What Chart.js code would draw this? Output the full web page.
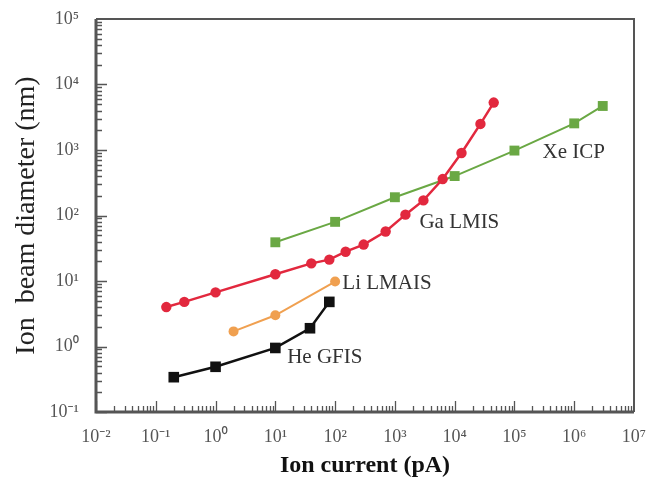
<!DOCTYPE html>
<html><head><meta charset="utf-8">
<script src="https://cdn.jsdelivr.net/npm/chart.js@4.4.1/dist/chart.umd.min.js"></script>
<style>html,body{margin:0;padding:0;background:#fff}#wrap{width:649px;height:491px}</style>
</head><body><div id="wrap"><canvas id="c"></canvas></div>
<script>
const heCurrent = [0.2, 1, 10, 38, 80];
const heDiameter = [0.34, 0.49, 0.95, 1.9, 4.8];
const liCurrent = [2, 10, 100];
const liDiameter = [1.7, 3.0, 9.8];
const gaCurrent = [0.15, 0.3, 1, 10, 40, 80, 150, 300, 700, 1500, 3000, 6300, 13000, 27000, 45000];
const gaDiameter = [4.0, 4.8, 6.7, 12.7, 18.6, 21.2, 28, 36, 57, 103, 170, 360, 900, 2500, 5300];
const xeCurrent = [10, 100, 1000, 10000, 100000, 1000000, 3000000];
const xeDiameter = [39, 80, 190, 400, 980, 2550, 4700];
const seriesNames = ['He GFIS', 'Li LMAIS', 'Ga LMIS', 'Xe ICP'];
const xTickValues = [1e-2, 1e-1, 1e0, 1e1, 1e2, 1e3, 1e4, 1e5, 1e6, 1e7];
const xTickLabels = ['10⁻²', '10⁻¹', '10⁰', '10¹', '10²', '10³', '10⁴', '10⁵', '10⁶', '10⁷'];
const yTickValues = [1e-1, 1e0, 1e1, 1e2, 1e3, 1e4, 1e5];
const yTickLabels = ['10⁻¹', '10⁰', '10¹', '10²', '10³', '10⁴', '10⁵'];
const xTitle = 'Ion current (pA)';
const yTitle = 'Ion  beam diameter (nm)';

const zip = (a, b) => a.map((v, i) => ({x: v, y: b[i]}));
const SERIF = '"Liberation Serif", "Times New Roman", serif';
const TICKFONT = '"Liberation Serif", "Noto Sans", "DejaVu Serif", serif';

const axisFrame = {
  id: 'axisFrame',
  beforeDatasetsDraw(chart) {
    const {ctx, chartArea: {left, right, top, bottom}, scales: {x, y}} = chart;
    ctx.save();
    ctx.strokeStyle = '#555';
    ctx.lineWidth = 1.3;
    ctx.beginPath();
    for (let e = -2; e <= 6; e++) {
      for (let m = 1; m <= 9; m++) {
        const px = Math.round(x.getPixelForValue(m * Math.pow(10, e))) + 0.5;
        const len = m === 1 ? 11 : 6;
        ctx.moveTo(px, bottom); ctx.lineTo(px, bottom - len);
      }
    }
    for (let e = -1; e <= 4; e++) {
      for (let m = 1; m <= 9; m++) {
        const py = Math.round(y.getPixelForValue(m * Math.pow(10, e))) + 0.5;
        const len = m === 1 ? 11 : 6;
        ctx.moveTo(left, py); ctx.lineTo(left + len, py);
      }
    }
    ctx.stroke();
    ctx.lineWidth = 2;
    ctx.beginPath();
    ctx.moveTo(left, top); ctx.lineTo(right, top); ctx.lineTo(right, bottom);
    ctx.stroke();
    ctx.lineWidth = 3;
    ctx.beginPath();
    ctx.moveTo(left, top); ctx.lineTo(left, bottom); ctx.lineTo(right, bottom);
    ctx.stroke();
    ctx.restore();
  }
};

const seriesLabels = {
  id: 'seriesLabels',
  afterDatasetsDraw(chart, args, opts) {
    const {ctx, scales: {x, y}} = chart;
    ctx.save();
    ctx.font = '21px ' + SERIF;
    ctx.fillStyle = '#333';
    ctx.textAlign = 'left';
    ctx.textBaseline = 'middle';
    opts.anchors.forEach(a => {
      ctx.fillText(a.text, x.getPixelForValue(a.x), y.getPixelForValue(a.y));
    });
    ctx.restore();
  }
};

const colors = {he: '#111111', li: '#f0a050', ga: '#e2283e', xe: '#6aa844'};

new Chart(document.getElementById('c'), {
  type: 'line',
  data: {
    datasets: [
      {label: seriesNames[0], data: zip(heCurrent, heDiameter), borderColor: colors.he, backgroundColor: colors.he,
       borderWidth: 2.5, pointStyle: 'rect', pointRadius: 7.5, pointBorderWidth: 0},
      {label: seriesNames[1], data: zip(liCurrent, liDiameter), borderColor: colors.li, backgroundColor: colors.li,
       borderWidth: 2, pointStyle: 'circle', pointRadius: 5, pointBorderWidth: 0},
      {label: seriesNames[2], data: zip(gaCurrent, gaDiameter), borderColor: colors.ga, backgroundColor: colors.ga,
       borderWidth: 2.5, pointStyle: 'circle', pointRadius: 5.2, pointBorderWidth: 0},
      {label: seriesNames[3], data: zip(xeCurrent, xeDiameter), borderColor: colors.xe, backgroundColor: colors.xe,
       borderWidth: 2, pointStyle: 'rect', pointRadius: 7, pointBorderWidth: 0}
    ]
  },
  options: {
    responsive: true,
    maintainAspectRatio: false,
    animation: false,
    layout: {padding: {top: 19, right: 15, left: 0, bottom: 0}},
    plugins: {
      legend: {display: false},
      tooltip: {enabled: false},
      seriesLabels: {
        anchors: [
          {text: seriesNames[0], x: 15.8, y: 0.68},
          {text: seriesNames[1], x: 132, y: 9.3},
          {text: seriesNames[2], x: 2570, y: 77},
          {text: seriesNames[3], x: 2.96e5, y: 916}
        ]
      }
    },
    scales: {
      x: {
        type: 'logarithmic', min: 1e-2, max: 1e7,
        grid: {display: false, drawTicks: false},
        border: {display: false},
        afterFit: s => { s.height = 79; s.paddingLeft = 0; s.paddingRight = 0; },
        afterBuildTicks: s => { s.ticks = xTickValues.map(v => ({value: v})); },
        ticks: {autoSkip: false, maxRotation: 0, padding: 14, color: '#555',
                font: {family: TICKFONT, size: 18},
                callback: (v, i) => xTickLabels[i]},
        title: {display: true, text: xTitle, color: '#111', font: {family: SERIF, size: 24, weight: 'bold'},
                padding: {bottom: 11, top: 0}}
      },
      y: {
        type: 'logarithmic', min: 1e-1, max: 1e5,
        grid: {display: false, drawTicks: false},
        border: {display: false},
        afterFit: s => { s.width = 96; s.paddingTop = 0; s.paddingBottom = 0; },
        afterBuildTicks: s => { s.ticks = yTickValues.map(v => ({value: v})); },
        ticks: {autoSkip: false, padding: 17, color: '#555',
                font: {family: TICKFONT, size: 18},
                callback: (v, i) => yTickLabels[i]},
        title: {display: true, text: yTitle, color: '#222', font: {family: SERIF, size: 28},
                padding: {top: 10, bottom: 0}}
      }
    }
  },
  plugins: [axisFrame, seriesLabels]
});
</script>
</body></html>
